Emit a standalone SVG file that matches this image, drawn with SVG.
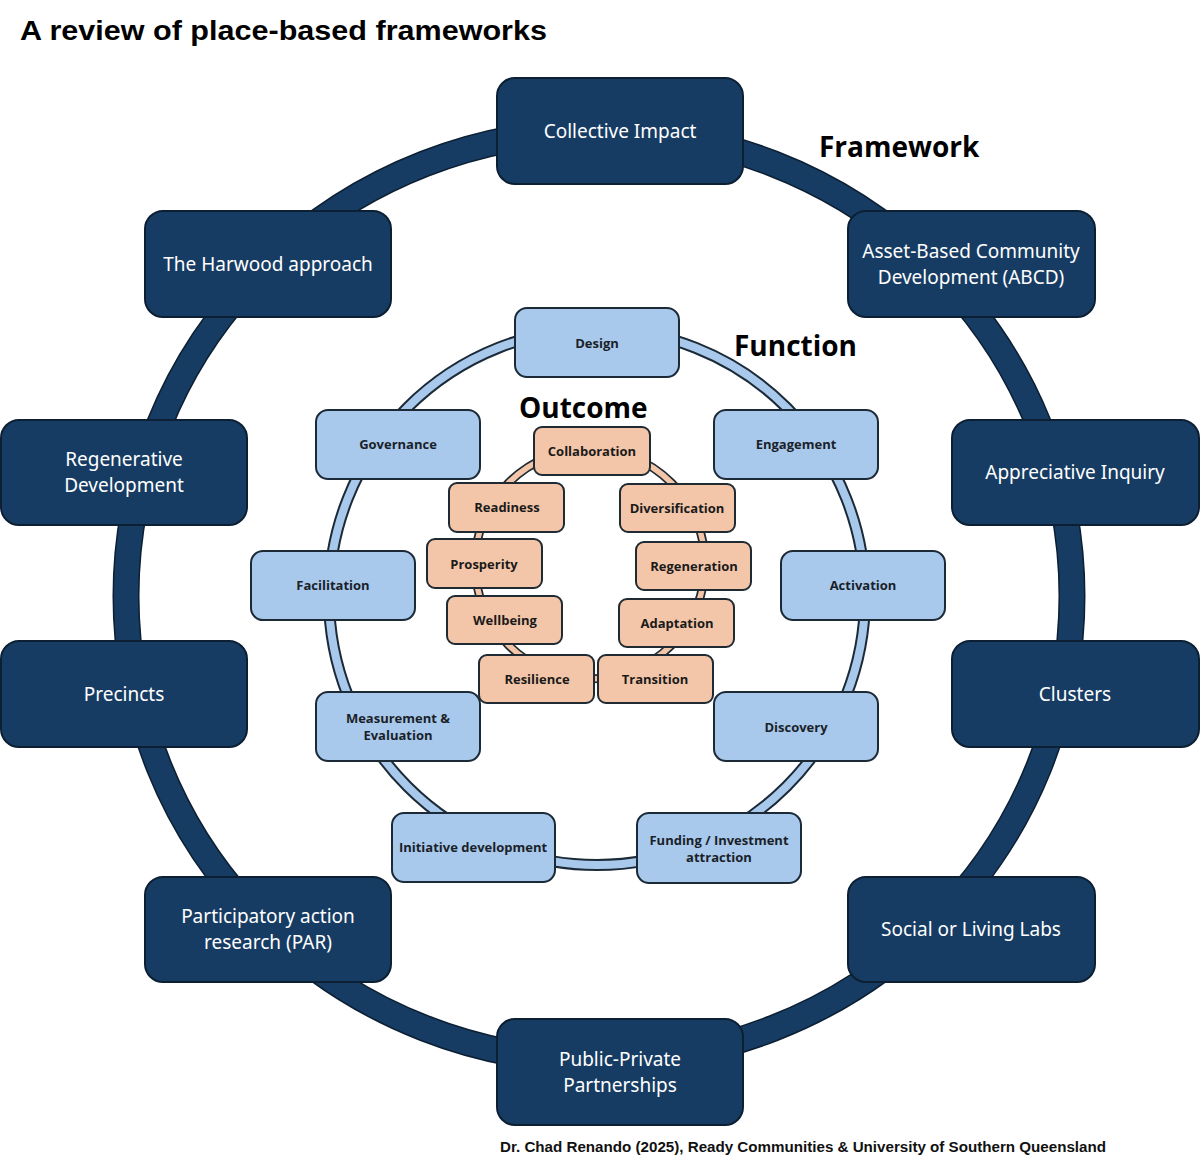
<svg xmlns="http://www.w3.org/2000/svg" width="1200" height="1167" viewBox="0 0 1200 1167">
<style>
  .outer rect { fill:#173c63; stroke:#0c1f33; stroke-width:2; }
  .outer text { fill:#ffffff; font-family:"Noto Sans","Open Sans",sans-serif; font-size:19px; text-anchor:middle; }
  .mid rect { fill:#a8c9eb; stroke:#1c2a38; stroke-width:2; }
  .mid text { fill:#1a1f2a; font-family:"Open Sans","Noto Sans",sans-serif; font-weight:bold; font-size:13px; text-anchor:middle; }
  .inn rect { fill:#f4c6a9; stroke:#1f2a33; stroke-width:2; }
  .inn text { fill:#1a1a1a; font-family:"Open Sans","Noto Sans",sans-serif; font-weight:bold; font-size:13px; text-anchor:middle; }
  .head { font-family:"Open Sans","Noto Sans",sans-serif; font-weight:bold; font-size:28px; fill:#000; }
</style>
<rect width="1200" height="1167" fill="#ffffff"/>
<text x="20" y="40" font-family="Liberation Sans, Arial, sans-serif" font-weight="bold" font-size="28" fill="#000" textLength="527" lengthAdjust="spacingAndGlyphs">A review of place-based frameworks</text>

<g id="connectors">
  <ellipse cx="599" cy="596" rx="473" ry="465" fill="none" stroke="#0c1f33" stroke-width="27"/>
  <ellipse cx="599" cy="596" rx="473" ry="465" fill="none" stroke="#173c63" stroke-width="24"/>
  <circle cx="597" cy="597" r="268" fill="none" stroke="#1c2a38" stroke-width="12"/>
  <circle cx="597" cy="597" r="268" fill="none" stroke="#a8c9eb" stroke-width="8"/>
  <circle cx="590" cy="564" r="115" fill="none" stroke="#1f2a33" stroke-width="9"/>
  <circle cx="590" cy="564" r="115" fill="none" stroke="#f4c6a9" stroke-width="5.5"/>
</g>

<text class="head" x="819" y="157">Framework</text>
<text class="head" x="734" y="356">Function</text>
<text class="head" x="519" y="418">Outcome</text>

<g class="outer">
  <g id="n-collective-impact"><rect x="497" y="78" width="246" height="106" rx="18"/><text x="620" y="138">Collective Impact</text></g>
  <g id="n-abcd"><rect x="848" y="211" width="247" height="106" rx="18"/><text x="971" y="258">Asset-Based Community</text><text x="971" y="284">Development (ABCD)</text></g>
  <g id="n-appreciative"><rect x="952" y="420" width="247" height="105" rx="18"/><text x="1075" y="479">Appreciative Inquiry</text></g>
  <g id="n-clusters"><rect x="952" y="641" width="247" height="106" rx="18"/><text x="1075" y="701">Clusters</text></g>
  <g id="n-living-labs"><rect x="848" y="877" width="247" height="105" rx="18"/><text x="971" y="936">Social or Living Labs</text></g>
  <g id="n-ppp"><rect x="497" y="1019" width="246" height="106" rx="18"/><text x="620" y="1066">Public-Private</text><text x="620" y="1092">Partnerships</text></g>
  <g id="n-par"><rect x="145" y="877" width="246" height="105" rx="18"/><text x="268" y="923">Participatory action</text><text x="268" y="949">research (PAR)</text></g>
  <g id="n-precincts"><rect x="1" y="641" width="246" height="106" rx="18"/><text x="124" y="701">Precincts</text></g>
  <g id="n-regenerative"><rect x="1" y="420" width="246" height="105" rx="18"/><text x="124" y="466">Regenerative</text><text x="124" y="492">Development</text></g>
  <g id="n-harwood"><rect x="145" y="211" width="246" height="106" rx="18"/><text x="268" y="271">The Harwood approach</text></g>
</g>

<g class="mid">
  <g id="f-design"><rect x="515" y="308" width="164" height="69" rx="12"/><text x="597" y="348">Design</text></g>
  <g id="f-engagement"><rect x="714" y="410" width="164" height="69" rx="12"/><text x="796" y="449">Engagement</text></g>
  <g id="f-activation"><rect x="781" y="551" width="164" height="69" rx="12"/><text x="863" y="590">Activation</text></g>
  <g id="f-discovery"><rect x="714" y="692" width="164" height="69" rx="12"/><text x="796" y="732">Discovery</text></g>
  <g id="f-funding"><rect x="637" y="813" width="164" height="70" rx="12"/><text x="719" y="845">Funding / Investment</text><text x="719" y="862">attraction</text></g>
  <g id="f-initiative"><rect x="392" y="813" width="163" height="69" rx="12"/><text x="473" y="852">Initiative development</text></g>
  <g id="f-measurement"><rect x="316" y="692" width="164" height="69" rx="12"/><text x="398" y="723">Measurement &amp;</text><text x="398" y="740">Evaluation</text></g>
  <g id="f-facilitation"><rect x="251" y="551" width="164" height="69" rx="12"/><text x="333" y="590">Facilitation</text></g>
  <g id="f-governance"><rect x="316" y="410" width="164" height="69" rx="12"/><text x="398" y="449">Governance</text></g>
</g>

<g class="inn">
  <g id="o-collaboration"><rect x="534" y="427" width="116" height="48" rx="8"/><text x="592" y="456">Collaboration</text></g>
  <g id="o-readiness"><rect x="449" y="483" width="115" height="49" rx="8"/><text x="507" y="512">Readiness</text></g>
  <g id="o-diversification"><rect x="620" y="484" width="115" height="48" rx="8"/><text x="677" y="513">Diversification</text></g>
  <g id="o-prosperity"><rect x="427" y="539" width="115" height="49" rx="8"/><text x="484" y="569">Prosperity</text></g>
  <g id="o-regeneration"><rect x="636" y="542" width="115" height="48" rx="8"/><text x="694" y="571">Regeneration</text></g>
  <g id="o-wellbeing"><rect x="447" y="596" width="115" height="48" rx="8"/><text x="505" y="625">Wellbeing</text></g>
  <g id="o-adaptation"><rect x="619" y="599" width="115" height="48" rx="8"/><text x="677" y="628">Adaptation</text></g>
  <g id="o-resilience"><rect x="479" y="655" width="115" height="48" rx="8"/><text x="537" y="684">Resilience</text></g>
  <g id="o-transition"><rect x="598" y="655" width="115" height="48" rx="8"/><text x="655" y="684">Transition</text></g>
</g>

<text x="500" y="1152" font-family="Liberation Sans, Arial, sans-serif" font-weight="bold" font-size="14" fill="#111" textLength="606" lengthAdjust="spacingAndGlyphs">Dr. Chad Renando (2025), Ready Communities &amp; University of Southern Queensland</text>
</svg>
